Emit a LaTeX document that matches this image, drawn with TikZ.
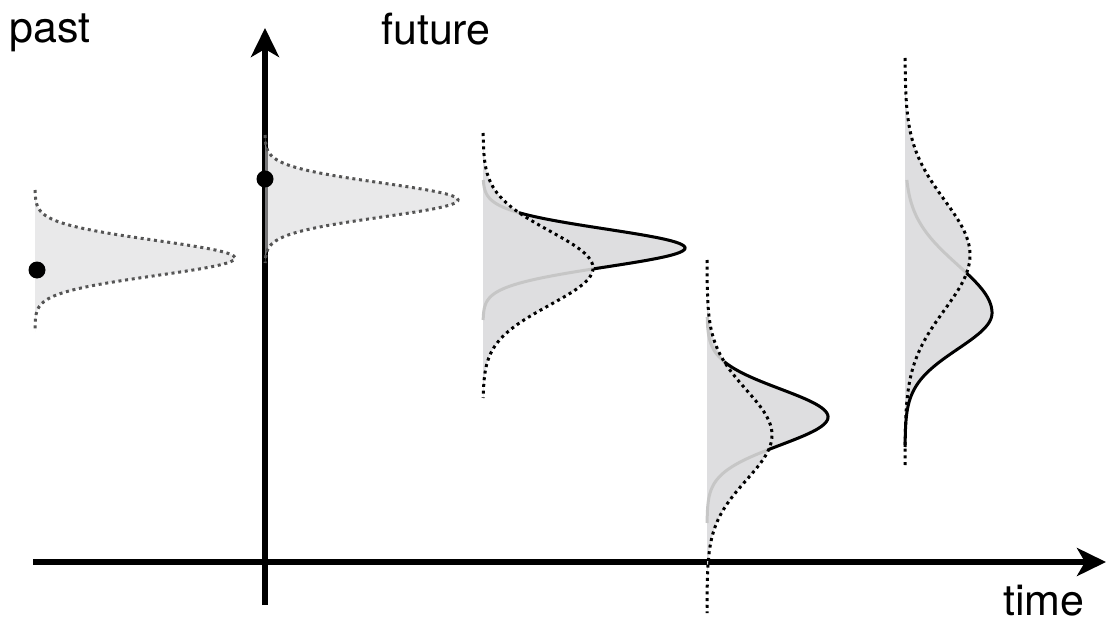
\documentclass[tikz,border=0pt]{standalone}
\usepackage{fontspec}
\setmainfont{TeX Gyre Heros}
\usetikzlibrary{arrows.meta}
\definecolor{ShadeGray}{RGB}{215,215,217}
\definecolor{BandGray}{RGB}{222,222,224}
\definecolor{PathGray}{RGB}{198,198,198}
\definecolor{TailGray}{RGB}{85,85,85}
\tikzset{
  axis/.style={line width=6.5pt,-{Stealth[length=29pt,width=28pt,inset=8pt]}},
  oldfill/.style={fill=ShadeGray,fill opacity=0.55},
  newfill/.style={fill=BandGray},
  oldtail/.style={draw=TailGray,line width=3pt,dash pattern=on 3pt off 3.7pt},
  newtail/.style={draw=black,line width=3pt,dash pattern=on 3pt off 3.7pt},
  ghost/.style={draw=PathGray,line width=3pt},
  actual/.style={draw=black,line width=3pt},
  lab/.style={font=\fontsize{43}{50}\selectfont,inner sep=0pt,anchor=base west},
}
\tikzset{dot/.style={circle,fill=black,inner sep=0pt,minimum size=17pt}}

\begin{document}
\begin{tikzpicture}[x=1pt,y=-1pt]
\useasboundingbox (0,0) rectangle (1107,628);
\coordinate (t0) at (33,562);
\coordinate (t1) at (1106,562);
\coordinate (s0) at (265,605);
\coordinate (s1) at (265,28);
\draw[axis] (t0)--(t1);
\draw[axis] (s0)--(s1);
\fill[oldfill] plot[domain=-68:74,samples=100] ({35+200*exp(-(\x/24.75)*(\x/24.75))},{258+\x}) -- cycle;
\draw[oldtail] plot[domain=-68:74,samples=100] ({35+200*exp(-(\x/24.75)*(\x/24.75))},{258+\x});
\fill[oldfill] plot[domain=-65:63,samples=100] ({265+193*exp(-(\x/24.04)*(\x/24.04))},{200+\x}) -- cycle;
\draw[oldtail] plot[domain=-65:63,samples=100] ({265+193*exp(-(\x/24.04)*(\x/24.04))},{200+\x});
\fill[newfill] plot[domain=-135:130,samples=120] ({483+110*exp(-(\x/52.33)*(\x/52.33))},{268+\x}) -- cycle;
\fill[newfill] plot[domain=-68:72,samples=100] ({483+202*exp(-(\x/26.87)*(\x/26.87))},{248+\x}) -- cycle;
\draw[ghost] plot[domain=-68:72,samples=100] ({483+202*exp(-(\x/26.87)*(\x/26.87))},{248+\x});
\draw[actual] plot[domain=-35.3:20.8,samples=60] ({483+202*exp(-(\x/26.87)*(\x/26.87))},{248+\x});
\draw[newtail] plot[domain=-135:130,samples=120] ({483+110*exp(-(\x/52.33)*(\x/52.33))},{268+\x});
\fill[newfill] plot[domain=-175:178,samples=140] ({707+65*exp(-(\x/63.64)*(\x/63.64))},{435+\x}) -- cycle;
\fill[newfill] plot[domain=-100:106,samples=100] ({707+121*exp(-(\x/39.6)*(\x/39.6))},{417+\x}) -- cycle;
\draw[ghost] plot[domain=-100:106,samples=100] ({707+121*exp(-(\x/39.6)*(\x/39.6))},{417+\x});
\draw[actual] plot[domain=-55.2:32.5,samples=60] ({707+121*exp(-(\x/39.6)*(\x/39.6))},{417+\x});
\draw[newtail] plot[domain=-175:178,samples=140] ({707+65*exp(-(\x/63.64)*(\x/63.64))},{435+\x});
\fill[newfill] plot[domain=-197:210,samples=150] ({905+65*exp(-(\x/77.78)*(\x/77.78))},{255+\x}) -- cycle;
\fill[newfill] plot[domain=-133:134,samples=120] ({905+87*exp(-(\x/ifthenelse(\x<0,67.88,50.91))*(\x/ifthenelse(\x<0,67.88,50.91)))},{313+\x}) -- cycle;
\draw[ghost] plot[domain=-133:-40,samples=60] ({905+87*exp(-(\x/67.88)*(\x/67.88))},{313+\x});
\draw[actual] plot[domain=-40:134,samples=100] ({905+87*exp(-(\x/ifthenelse(\x<0,67.88,50.91))*(\x/ifthenelse(\x<0,67.88,50.91)))},{313+\x});
\draw[newtail] plot[domain=-197:210,samples=150] ({905+65*exp(-(\x/77.78)*(\x/77.78))},{255+\x});
\node[dot] (pastobs) at (37,270) {};
\node[dot] (nowobs) at (265,179) {};
\node[lab] (pastlab) at (9,43) {past};
\node[lab] (futurelab) at (381,45) {future};
\node[lab] (timelab) at (1003,615) {time};
\end{tikzpicture}
\end{document}
